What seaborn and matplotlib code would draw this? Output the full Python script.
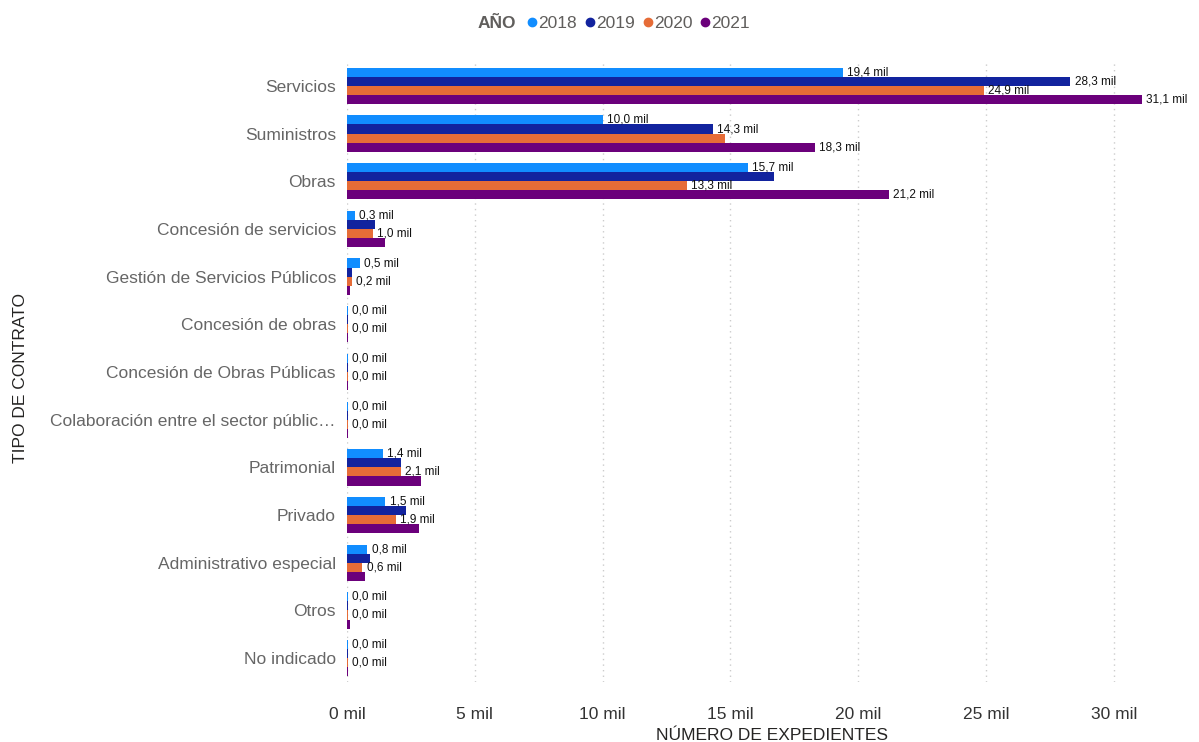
import pandas as pd
import matplotlib.pyplot as plt
from matplotlib.lines import Line2D
import seaborn as sns

categories = [
    "Servicios", "Suministros", "Obras", "Concesión de servicios",
    "Gestión de Servicios Públicos", "Concesión de obras",
    "Concesión de Obras Públicas", "Colaboración entre el sector públic…",
    "Patrimonial", "Privado", "Administrativo especial", "Otros", "No indicado",
]
years = ["2018", "2019", "2020", "2021"]

# thousands of expedientes
v2018 = [19.4, 10.0, 15.7, 0.3, 0.5, 0.03, 0.03, 0.03, 1.4, 1.5, 0.8, 0.03, 0.03]
v2019 = [28.3, 14.3, 16.7, 1.1, 0.2, 0.03, 0.03, 0.03, 2.1, 2.3, 0.9, 0.03, 0.03]
v2020 = [24.9, 14.8, 13.3, 1.0, 0.2, 0.03, 0.03, 0.03, 2.1, 1.9, 0.6, 0.03, 0.03]
v2021 = [31.1, 18.3, 21.2, 1.5, 0.1, 0.03, 0.03, 0.03, 2.9, 2.8, 0.7, 0.1, 0.03]

# which data labels are visible in the original
show2018 = [1] * 13
show2019 = [1, 1] + [0] * 11
show2020 = [1, 0] + [1] * 11
show2021 = [1, 1, 1] + [0] * 10

colors = ["#118DFF", "#12239E", "#E66C37", "#6B007B"]

rows = []
for yr, vals in zip(years, [v2018, v2019, v2020, v2021]):
    for cat, v in zip(categories, vals):
        rows.append({"tipo": cat, "anio": yr, "valor": v})
df = pd.DataFrame(rows)

sns.set_style("white")
plt.rcParams["font.family"] = ["Liberation Sans", "DejaVu Sans"]

fig = plt.figure(figsize=(11.99, 7.42), dpi=100)
ax = fig.add_axes([347 / 1199, 1 - 682 / 742, 818 / 1199, 620 / 742])

sns.barplot(data=df, x="valor", y="tipo", hue="anio", order=categories,
            hue_order=years, palette=colors, orient="h", width=0.76,
            saturation=1, linewidth=0, legend=False, ax=ax, zorder=3)

for cont, vals, show in zip(ax.containers, [v2018, v2019, v2020, v2021],
                            [show2018, show2019, show2020, show2021]):
    labels = [(f"{v:.1f}".replace(".", ",") + " mil") if s else ""
              for v, s in zip(vals, show)]
    ax.bar_label(cont, labels=labels, padding=3, fontsize=8.5, color="#111111",
                 fontstretch="condensed")

ax.set_xlim(0, 32)
ax.set_ylim(12.5, -0.5)
ax.set_xticks([0, 5, 10, 15, 20, 25, 30])
ax.set_xticklabels([f"{t} mil" for t in [0, 5, 10, 15, 20, 25, 30]])
ax.tick_params(axis="x", labelsize=12.5, colors="#333333", length=0, pad=18)
ax.tick_params(axis="y", labelsize=12.5, colors="#666666", length=0, pad=8)
ax.grid(axis="x", color="#cccccc", linestyle=(0, (1, 3)), linewidth=1)
ax.grid(axis="y", visible=False)
sns.despine(ax=ax, left=True, bottom=True)

ax.set_xlabel("NÚMERO DE EXPEDIENTES", fontsize=12.5, color="#252423")
ax.xaxis.set_label_coords(0.52, -0.075)
ax.set_ylabel("TIPO DE CONTRATO", fontsize=12.5, color="#252423")
ax.yaxis.set_label_coords(-0.39, 0.49)

fig.text(478 / 1199, 1 - 23 / 742, "AÑO", fontsize=12.5, fontweight="bold",
         color="#605E5C", va="center")
handles = [Line2D([], [], marker="o", linestyle="", color=c, markersize=6)
           for c in colors]
fig.legend(handles, years, loc="center left",
           bbox_to_anchor=(527 / 1199, 1 - 23 / 742), ncol=4, frameon=False,
           fontsize=12.5, labelcolor="#605E5C", handletextpad=0.05,
           columnspacing=0.45, handlelength=0.6, borderaxespad=0,
           borderpad=0)

fig.savefig("out.png", dpi=100)
